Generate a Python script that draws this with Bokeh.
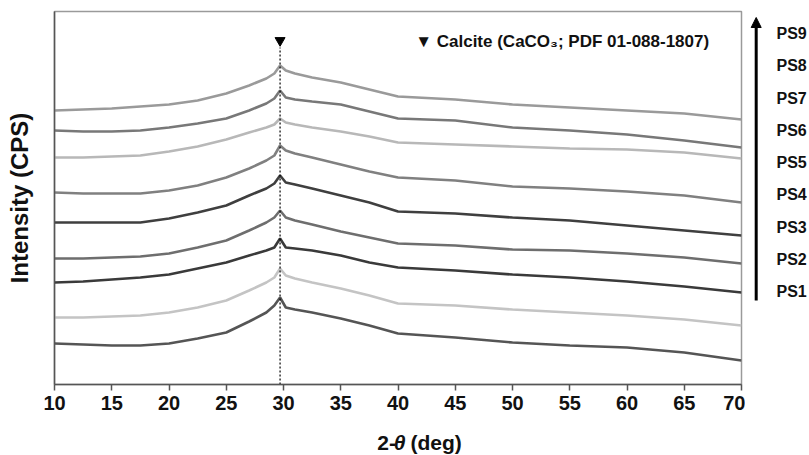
from bokeh.plotting import figure
from bokeh.layouts import row, column
from bokeh.models import Range1d, Label, Arrow, NormalHead, FixedTicker
from bokeh.embed import file_html
from bokeh.resources import INLINE

two_theta = [10, 12.5, 15, 17.5, 20, 22.5, 25, 27, 28.5, 29.2, 29.7, 30.2, 31,
             32.5, 35, 37.5, 40, 45, 50, 55, 60, 65, 70]

# stacked intensities (offset units, as drawn)
ps1 = [41, 40, 39, 39, 41, 46, 52, 63, 72, 79, 87, 77, 75, 72, 66, 59, 51, 47, 42, 39, 37, 32, 24]
ps2 = [67, 67, 68, 69, 72, 77, 84, 94, 102, 107, 116, 109, 106, 102, 96, 89, 81, 79, 75, 72, 69, 65, 59]
ps3 = [102, 103, 105, 107, 110, 116, 122, 129, 134, 137, 146, 137, 136, 134, 129, 122, 117, 114, 110, 107, 103, 98, 92]
ps4 = [126, 126, 127, 128, 131, 137, 144, 154, 162, 167, 174, 167, 164, 160, 153, 147, 141, 139, 135, 134, 131, 127, 121]
ps5 = [162, 162, 162, 162, 166, 172, 179, 189, 196, 201, 209, 202, 200, 196, 189, 182, 173, 171, 167, 164, 159, 154, 149]
ps6 = [192, 191, 191, 191, 194, 199, 207, 216, 224, 229, 239, 234, 231, 227, 220, 213, 207, 204, 198, 196, 193, 189, 182]
ps7 = [227, 227, 228, 229, 233, 238, 245, 252, 257, 260, 266, 262, 260, 257, 253, 248, 242, 240, 238, 236, 235, 232, 226]
ps8 = [254, 253, 253, 254, 257, 261, 266, 274, 281, 286, 294, 287, 285, 283, 280, 273, 266, 264, 257, 254, 250, 244, 237]
ps9 = [274, 275, 276, 278, 280, 284, 291, 299, 306, 311, 319, 314, 311, 307, 302, 295, 288, 285, 280, 277, 274, 271, 265]

series = [ps1, ps2, ps3, ps4, ps5, ps6, ps7, ps8, ps9]
sample_names = ["PS1", "PS2", "PS3", "PS4", "PS5", "PS6", "PS7", "PS8", "PS9"]
colors = ["#555555", "#c4c4c4", "#3a3a3a", "#6e6e6e", "#3f3f3f",
          "#808080", "#b8b8b8", "#787878", "#9a9a9a"]

calcite_peak = 29.7
calcite_label = "\u25BC Calcite (CaCO\u2083; PDF 01-088-1807)"
x_ticks = [10, 15, 20, 25, 30, 35, 40, 45, 50, 55, 60, 65, 70]

FONT = "Liberation Sans"
INK = "#111111"

# ---------------- main plot ----------------
p = figure(width=745, height=425, output_backend="svg", toolbar_location=None,
           x_range=Range1d(10, 70), y_range=Range1d(0, 373),
           min_border_left=54, min_border_right=4, min_border_top=11,
           min_border_bottom=41)
p.background_fill_color = "white"
p.border_fill_color = "white"
p.outline_line_color = "#9a9a9a"
p.outline_line_width = 1.5
p.xgrid.visible = False
p.ygrid.visible = False

for ys, c in zip(series, colors):
    p.line(two_theta, ys, line_color=c, line_width=2.6)

p.segment(x0=[calcite_peak], y0=[0], x1=[calcite_peak], y1=[337],
          line_color="black", line_width=1.2, line_dash="2 2")
p.scatter([calcite_peak], [344], marker="inverted_triangle", size=10,
          fill_color="black", line_color="black")

xa = p.xaxis[0]
xa.ticker = FixedTicker(ticks=x_ticks)
xa.major_tick_in = 0
xa.major_tick_out = 6
xa.minor_tick_line_color = None
xa.axis_line_color = "#555555"
xa.axis_line_width = 1.5
xa.major_tick_line_color = "#555555"
xa.major_tick_line_width = 1.5
xa.major_label_text_font = FONT
xa.major_label_text_font_style = "bold"
xa.major_label_text_font_size = "20px"
xa.major_label_text_color = INK
xa.major_label_standoff = 5

ya = p.yaxis[0]
ya.ticker = FixedTicker(ticks=[])
ya.major_tick_line_color = None
ya.minor_tick_line_color = None
ya.axis_line_color = "#555555"
ya.axis_line_width = 1.5
ya.axis_label = "Intensity (CPS)"
ya.axis_label_text_font = FONT
ya.axis_label_text_font_style = "bold"
ya.axis_label_text_font_size = "24px"
ya.axis_label_text_color = INK
ya.axis_label_standoff = 22

p.add_layout(Label(x=41.5, y=343, text=calcite_label, text_font=FONT,
                   text_font_style="bold", text_font_size="17px",
                   text_baseline="middle", text_color=INK))

# ---------------- x-axis title strip ----------------
s = figure(width=745, height=30, output_backend="svg", toolbar_location=None,
           x_range=Range1d(0, 745), y_range=Range1d(0, 30),
           x_axis_location=None, y_axis_location=None,
           min_border=0, outline_line_color=None)
s.xgrid.visible = False
s.ygrid.visible = False
ty = 13
s.add_layout(Label(x=350, y=ty, text="2-", text_font=FONT, text_font_style="bold",
                   text_font_size="21px", text_baseline="middle", text_color=INK))
s.add_layout(Label(x=368, y=ty, text="\u03B8", text_font=FONT,
                   text_font_style="bold italic", text_font_size="21px",
                   text_baseline="middle", text_color=INK))
s.add_layout(Label(x=386, y=ty, text="(deg)", text_font=FONT, text_font_style="bold",
                   text_font_size="21px", text_baseline="middle", text_color=INK))

# ---------------- sample order strip (right) ----------------
r = figure(width=64, height=455, output_backend="svg", toolbar_location=None,
           x_range=Range1d(0, 64), y_range=Range1d(0, 455),
           x_axis_location=None, y_axis_location=None,
           min_border=0, outline_line_color=None)
r.xgrid.visible = False
r.ygrid.visible = False
r.add_layout(Arrow(x_start=10.7, y_start=455 - 300, x_end=10.7, y_end=455 - 17,
                   line_color="black", line_width=3,
                   end=NormalHead(size=10, fill_color="black", line_color="black")))
for i, name in enumerate(sample_names):
    r.add_layout(Label(x=31, y=455 - (291 - i * 32.25), text=name, text_font=FONT,
                       text_font_style="bold", text_font_size="16px",
                       text_baseline="middle", text_color=INK))

layout = row(column(p, s, spacing=0), r, spacing=0)
open("out.html", "w").write(file_html(layout, INLINE))
